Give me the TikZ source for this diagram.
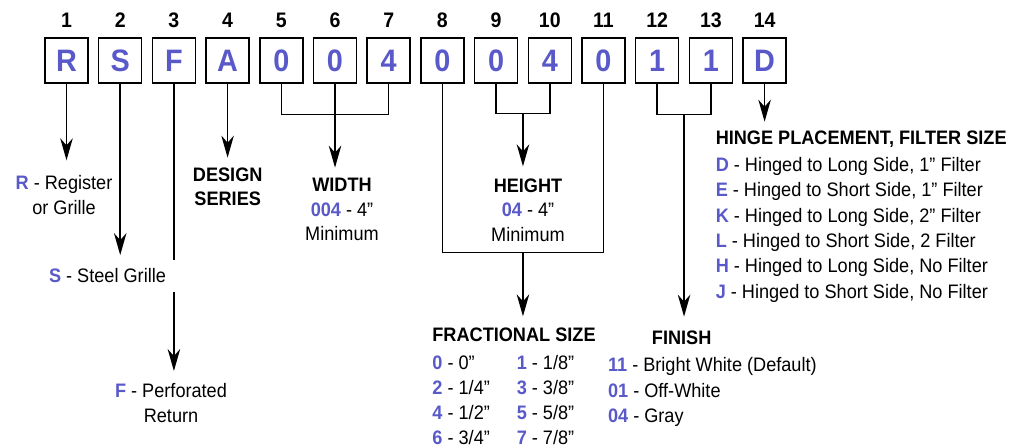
\documentclass[tikz,border=0pt]{standalone}
\usepackage{fontspec}
\setmainfont{Liberation Sans}[FakeStretch=0.93]
\usetikzlibrary{arrows.meta,calc}

\definecolor{codeblue}{RGB}{89,89,201}
\newcommand{\code}[1]{\textcolor{codeblue}{\textbf{#1}}}

\begin{document}
\begin{tikzpicture}[
      x=1pt, y=-1pt,
      line width=1.5pt,
      box/.style={
          rectangle,
          draw=black, inner sep=0pt,
          minimum height=45pt, minimum width=43pt,
          text=codeblue, font=\fontsize{31}{31}\selectfont\bfseries,
        },
      num/.style={inner sep=0pt, anchor=base, font=\fontsize{21}{21}\selectfont\bfseries},
      txt/.style={inner sep=0pt, align=center, font=\fontsize{19.5}{24.5}\selectfont},
      head/.style={inner sep=0pt, align=center, font=\fontsize{19.5}{24}\selectfont\bfseries},
      list/.style={inner sep=0pt, align=left, font=\fontsize{19.5}{25.4}\selectfont},
      table/.style={inner sep=0pt, font=\fontsize{19.5}{25}\selectfont},
      arr/.style={-{Stealth[length=22pt,width=12.5pt,inset=7pt]}},
    ]
    \useasboundingbox (0,0) rectangle (1011,447);

    \node[box] (b1) at (66.5,60.4) {R};
    \node[box] (b2) at (120.2,60.4) {S};
    \node[box] (b3) at (173.9,60.4) {F};
    \node[box] (b4) at (227.6,60.4) {A};
    \node[box] (b5) at (281.3,60.4) {0};
    \node[box] (b6) at (335.0,60.4) {0};
    \node[box] (b7) at (388.7,60.4) {4};
    \node[box] (b8) at (442.4,60.4) {0};
    \node[box] (b9) at (496.1,60.4) {0};
    \node[box] (b10) at (549.8,60.4) {4};
    \node[box] (b11) at (603.5,60.4) {0};
    \node[box] (b12) at (657.2,60.4) {1};
    \node[box] (b13) at (710.9,60.4) {1};
    \node[box] (b14) at (764.6,60.4) {D};
    % position numbers
    \foreach \i in {1,...,14}
      \node[num] (n\i) at (b\i |- 0,27.3) {\i};

    % type, material, design
    \node[txt] (rlab) at (64,195) {\code{R} - Register\\or Grille};
    \node[txt] (flab) at (171,403.2) {\code{F} - Perforated\\Return};
    \node[head] (alab) at (227.7,187) {DESIGN\\SERIES};
    \draw[arr, shorten >=14.5pt] (b1) -- (b1 |- rlab.north);
    \draw[arr, shorten >=12pt] (b3) -- (b3 |- flab.north);
    \draw[arr, shorten >=9.7pt] (b4) -- (b4 |- alab.north);
    \node[txt, fill=white, inner sep=9pt] (slab) at (107.5,275.7) {\code{S} - Steel Grille};
    \draw[arr, shorten >=3.7pt] (b2) -- (b2 |- slab.north);

    % width and height
    \node[txt] (wlab) at (342,209.5) {\textbf{WIDTH}\\\code{004} - 4”\\Minimum};
    \node[txt] (hlab) at (528,210) {\textbf{HEIGHT}\\\code{04} - 4”\\Minimum};
    \draw (b5.south) -- ++(0,31) -| (b7.south);
    \draw[arr, shorten >=9.8pt] (b6) -- (b6 |- wlab.north);
    \draw (b9.south) -- ++(0,30) -| (b10.south);
    \coordinate (hj) at ($(b9.south)!.5!(b10.south)+(0,30)$);
    \draw[arr, shorten >=11.5pt] (hj) -- (hj |- hlab.north);

    % fractional size
    \node[head] (fstitle) at (514,335) {FRACTIONAL SIZE};
    \node[table, anchor=north west] (fslist) at (431.7,351.2) {%
      \begin{tabular}{@{}p{84.3pt}@{}l@{}}
        \code{0} - 0” & \code{1} - 1/8”\\
        \code{2} - 1/4” & \code{3} - 3/8”\\
        \code{4} - 1/2” & \code{5} - 5/8”\\
        \code{6} - 3/4” & \code{7} - 7/8”
      \end{tabular}};
    \draw (b8.south) -- ++(0,168.8) -| (b11.south);
    \coordinate (fj) at ($(b8.south)!.5!(b11.south)+(0,168.8)$);
    \draw[arr, shorten >=11pt] (fj) -- (fj |- fstitle.north);

    % finish
    \node[head] (fintitle) at (681.7,337.3) {FINISH};
    \node[list, anchor=north west] (finlist) at (607.3,357) {\code{11} - Bright White (Default)\\\code{01} - Off-White\\\code{04} - Gray};
    \draw (b12.south) -- ++(0,31) -| (b13.south);
    \coordinate (nj) at ($(b12.south)!.5!(b13.south)+(0,31)$);
    \draw[arr, shorten >=13pt] (nj) -- (nj |- fintitle.north);

    % hinge placement
    \node[list, anchor=north west] (hinge) at (715,130.3) {\textbf{HINGE PLACEMENT, FILTER SIZE}\\[1.2pt]
      \code{D} - Hinged to Long Side, 1” Filter\\
      \code{E} - Hinged to Short Side, 1” Filter\\
      \code{K} - Hinged to Long Side, 2” Filter\\
      \code{L} - Hinged to Short Side, 2 Filter\\
      \code{H} - Hinged to Long Side, No Filter\\
      \code{J} - Hinged to Short Side, No Filter};
    \draw[arr, shorten >=8.6pt] (b14) -- (b14 |- hinge.north);
  \end{tikzpicture}
\end{document}
